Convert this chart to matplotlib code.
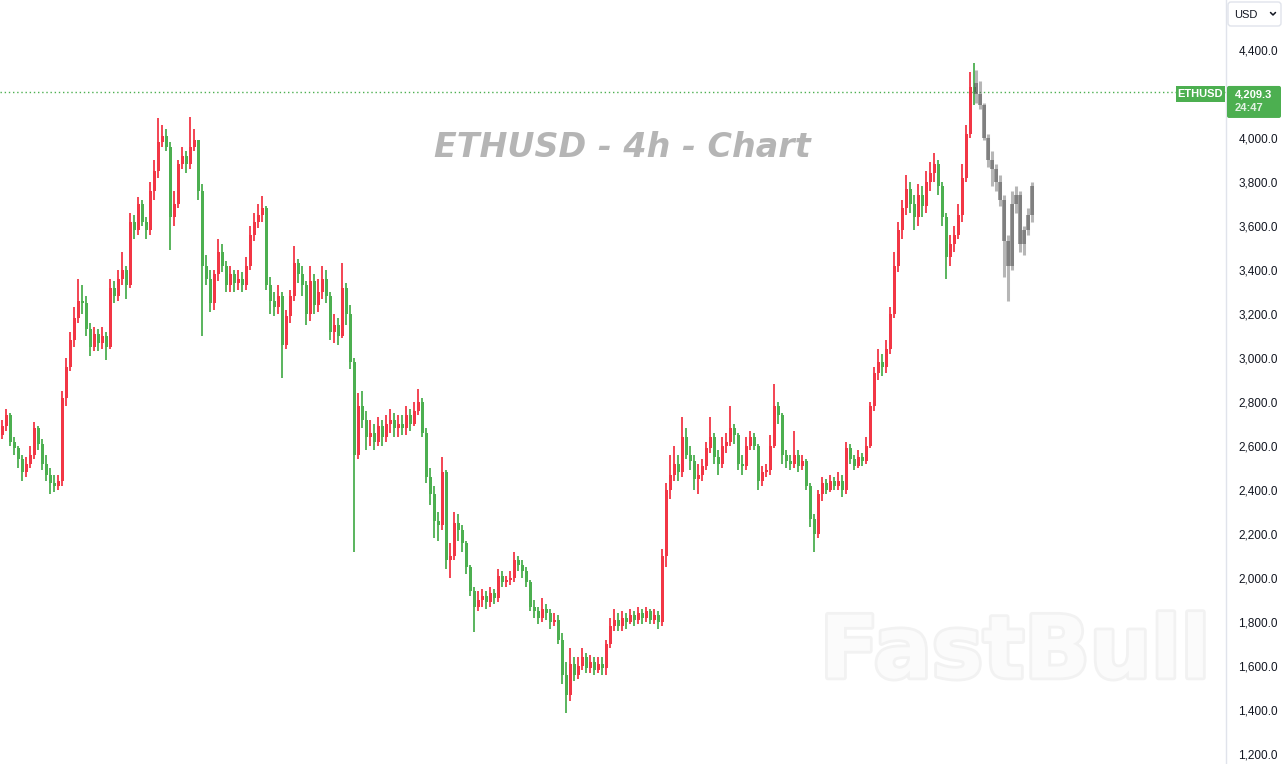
import matplotlib
matplotlib.use("Agg")
import matplotlib.pyplot as plt
import matplotlib.patheffects as pe
from matplotlib.patches import FancyBboxPatch, Rectangle
import numpy as np

# ETHUSD 4h candles (one entry per candle)
first_open = 2650
closes = [
    2690, 2740, 2620, 2590, 2540, 2480, 2520, 2560, 2680, 2610,
    2520, 2470, 2430, 2420, 2440, 2820, 2960, 3080, 3180, 3260,
    3250, 3130, 3050, 3110, 3070, 3100, 3050, 3320, 3280, 3360,
    3400, 3330, 3620, 3580, 3700, 3620, 3580, 3760, 3850, 3980,
    4010, 3960, 3640, 3700, 3880, 3920, 3880, 3960, 3990, 3760,
    3420, 3360, 3250, 3380, 3480, 3420, 3330, 3380, 3340, 3360,
    3330, 3420, 3560, 3620, 3650, 3680, 3330, 3260, 3230, 3280,
    3060, 3190, 3280, 3430, 3380, 3330, 3200, 3350, 3240, 3300,
    3360, 3280, 3120, 3150, 3100, 3320, 3200, 2980, 2560, 2780,
    2720, 2640, 2660, 2620, 2690, 2640, 2700, 2720, 2680, 2700,
    2680, 2740, 2700, 2760, 2800, 2660, 2460, 2380, 2260, 2240,
    2480, 2080, 2100, 2250, 2220, 2160, 2050, 1940, 1870, 1900,
    1920, 1890, 1930, 1910, 2010, 1980, 1990, 2000, 2080, 2060,
    2030, 1980, 1870, 1850, 1820, 1860, 1840, 1800, 1810, 1720,
    1560, 1470, 1610, 1560, 1600, 1640, 1590, 1620, 1580, 1610,
    1590, 1700, 1780, 1810, 1780, 1820, 1800, 1830, 1810, 1840,
    1820, 1850, 1810, 1830, 1800, 2100, 2400, 2470, 2520, 2480,
    2640, 2560, 2530, 2450, 2470, 2510, 2590, 2640, 2550, 2520,
    2600, 2620, 2680, 2650, 2520, 2510, 2600, 2640, 2600, 2440,
    2480, 2490, 2600, 2780, 2740, 2560, 2530, 2520, 2560, 2510,
    2530, 2420, 2270, 2200, 2380, 2430, 2400, 2440, 2420, 2440,
    2400, 2590, 2540, 2510, 2550, 2530, 2600, 2780, 2930, 2980,
    2960, 3040, 3200, 3420, 3580, 3680, 3770, 3700, 3640, 3740,
    3690, 3800, 3840, 3880, 3780, 3640, 3460, 3520, 3560, 3650,
    3820, 4020, 4230, 4209.3,
]
highs = [
    2720, 2770, 2750, 2640, 2600, 2560, 2550, 2600, 2710, 2690,
    2630, 2560, 2500, 2470, 2470, 2850, 3000, 3120, 3230, 3360,
    3330, 3280, 3160, 3140, 3130, 3140, 3120, 3360, 3350, 3400,
    3480, 3420, 3660, 3650, 3730, 3720, 3640, 3800, 3900, 4090,
    4060, 4040, 3980, 3760, 3900, 3960, 3940, 4095, 4040, 3990,
    3790, 3470, 3400, 3400, 3540, 3520, 3440, 3420, 3400, 3400,
    3390, 3460, 3600, 3660, 3700, 3735, 3690, 3370, 3300, 3330,
    3300, 3220, 3310, 3510, 3450, 3420, 3350, 3420, 3380, 3360,
    3420, 3400, 3300, 3200, 3180, 3430, 3340, 3240, 3000, 2840,
    2850, 2760, 2720, 2700, 2730, 2720, 2740, 2770, 2750, 2740,
    2740, 2780, 2770, 2800, 2860, 2820, 2680, 2500, 2420, 2300,
    2550, 2490, 2160, 2300, 2290, 2240, 2170, 2060, 1960, 1940,
    1950, 1940, 1960, 1950, 2040, 2030, 2010, 2030, 2120, 2100,
    2080, 2050, 1990, 1900, 1870, 1910, 1880, 1860, 1840, 1830,
    1750, 1620, 1680, 1640, 1640, 1680, 1660, 1650, 1640, 1640,
    1640, 1720, 1820, 1860, 1840, 1850, 1840, 1860, 1850, 1870,
    1860, 1870, 1860, 1860, 1850, 2130, 2430, 2560, 2600, 2560,
    2730, 2680, 2600, 2560, 2520, 2540, 2620, 2730, 2660, 2580,
    2640, 2660, 2780, 2700, 2660, 2560, 2640, 2670, 2660, 2610,
    2510, 2520, 2650, 2880, 2800, 2750, 2580, 2560, 2670, 2580,
    2560, 2540, 2430, 2290, 2400, 2460, 2450, 2470, 2460, 2480,
    2470, 2620, 2610, 2560, 2580, 2570, 2640, 2800, 2960, 3040,
    3020, 3080, 3230, 3480, 3620, 3720, 3830, 3800, 3740, 3790,
    3780, 3850, 3890, 3930, 3900, 3800, 3660, 3560, 3600, 3700,
    3880, 4060, 4300, 4340,
]
lows = [
    2630, 2670, 2600, 2560, 2500, 2440, 2460, 2500, 2540, 2580,
    2490, 2440, 2380, 2390, 2400, 2420, 2780, 2940, 3050, 3160,
    3200, 3100, 3010, 3030, 3030, 3040, 2990, 3040, 3250, 3260,
    3330, 3270, 3320, 3540, 3560, 3600, 3540, 3560, 3720, 3820,
    3960, 3940, 3490, 3600, 3680, 3860, 3840, 3860, 3940, 3720,
    3100, 3330, 3210, 3220, 3350, 3390, 3300, 3300, 3300, 3310,
    3300, 3310, 3400, 3530, 3590, 3620, 3310, 3200, 3190, 3200,
    2910, 3040, 3160, 3260, 3340, 3280, 3150, 3170, 3200, 3210,
    3270, 3250, 3080, 3070, 3060, 3090, 3150, 2950, 2120, 2540,
    2680, 2580, 2600, 2580, 2600, 2600, 2620, 2660, 2640, 2640,
    2650, 2650, 2670, 2690, 2740, 2640, 2430, 2330, 2180, 2170,
    2220, 2040, 2000, 2080, 2170, 2120, 2020, 1920, 1755, 1850,
    1870, 1860, 1870, 1880, 1890, 1960, 1960, 1970, 1980, 2030,
    2000, 1960, 1850, 1820, 1790, 1800, 1810, 1770, 1780, 1700,
    1520, 1385, 1440, 1530, 1540, 1580, 1570, 1570, 1560, 1570,
    1560, 1560, 1680, 1760, 1760, 1760, 1770, 1790, 1780, 1790,
    1790, 1800, 1790, 1790, 1770, 1780, 2050, 2360, 2440, 2440,
    2460, 2540, 2490, 2400, 2380, 2440, 2490, 2570, 2520, 2470,
    2500, 2570, 2600, 2610, 2490, 2470, 2490, 2580, 2580, 2400,
    2420, 2460, 2470, 2590, 2700, 2520, 2500, 2490, 2500, 2480,
    2490, 2400, 2230, 2120, 2180, 2350, 2380, 2390, 2400, 2400,
    2370, 2380, 2520, 2490, 2500, 2510, 2520, 2590, 2760, 2900,
    2920, 2930, 3020, 3180, 3390, 3540, 3650, 3660, 3580, 3600,
    3640, 3660, 3760, 3800, 3740, 3600, 3360, 3420, 3480, 3540,
    3620, 3800, 4000, 4150,
]

# grey projection candles drawn after the live data
ghost_opens = [4250, 4200, 4150, 4000, 3900, 3860, 3800, 3720, 3530, 3420, 3700, 3740, 3520, 3580, 3650]
ghost_closes = [4200, 4150, 4000, 3900, 3860, 3800, 3720, 3530, 3420, 3700, 3740, 3520, 3580, 3650, 3780]
ghost_highs = [4310, 4260, 4160, 4020, 3940, 3880, 3830, 3740, 3560, 3760, 3780, 3760, 3600, 3680, 3800]
ghost_lows = [4160, 4130, 3990, 3870, 3780, 3760, 3690, 3370, 3260, 3400, 3660, 3480, 3470, 3560, 3620]

# 4,200.0 sits under the last-price tag, so the scale does not print it
price_ticks = [1200, 1400, 1600, 1800, 2000, 2200, 2400, 2600, 2800, 3000,
               3200, 3400, 3600, 3800, 4000, 4400]
symbol = "ETHUSD"
countdown = "24:47"
title = "ETHUSD - 4h - Chart"

UP = "#f23645"      # this chart paints rising candles red
DOWN = "#4caf50"
GREEN = "#4caf50"
W, H = 1287, 764
PANE_W = 1226

fig = plt.figure(figsize=(W / 100, H / 100), dpi=100)
fig.patch.set_facecolor("white")
ax = fig.add_axes([0, 0, PANE_W / W, 1])

closes = np.array(closes, dtype=float)
opens = np.concatenate([[first_open], closes[:-1]])
highs = np.array(highs, dtype=float)
lows = np.array(lows, dtype=float)
x = np.arange(len(closes)) + 0.25
colors = np.where(closes >= opens, UP, DOWN)

body_lo = np.minimum(opens, closes)
body_h = np.maximum(np.abs(closes - opens), 6)
ax.vlines(x, lows, highs, colors=colors, linewidth=1.3, zorder=3)
ax.bar(x, body_h, bottom=body_lo, width=0.72, color=colors, linewidth=0, zorder=3)

gx = x[-1] + 0.5 + np.arange(len(ghost_closes))
g_open = np.array(ghost_opens, dtype=float)
g_close = np.array(ghost_closes, dtype=float)
ax.vlines(gx, ghost_lows, ghost_highs, colors="#5e5e5e", alpha=0.45, linewidth=2.2, zorder=4)
ax.bar(gx, np.maximum(np.abs(g_close - g_open), 8), bottom=np.minimum(g_open, g_close),
       width=1.0, color="#555555", alpha=0.55, linewidth=0, zorder=4)

last = closes[-1]
ax.axhline(last, color=GREEN, linestyle=(0, (1, 2)), linewidth=1.0, zorder=2)

ax.set_xlim(-0.3, PANE_W / 4 - 0.3)
ax.set_ylim(4400 - 714 / 0.22, 4400 + 50 / 0.22)
ax.set_facecolor("white")
for side in ("top", "left", "bottom"):
    ax.spines[side].set_visible(False)
ax.spines["right"].set_color("#e0e3eb")
ax.spines["right"].set_linewidth(1)
ax.set_xticks([])
ax.yaxis.tick_right()
ax.set_yticks(price_ticks)
ax.set_yticklabels([f"{v:,.1f}" for v in price_ticks])
ax.tick_params(axis="y", length=0, pad=9, labelsize=8.5, labelcolor="#131722")
for lbl in ax.get_yticklabels():
    lbl.set_fontfamily("Liberation Sans")

# title and watermark
ax.text(0.508, 0.807, title, transform=ax.transAxes, ha="center", va="center",
        fontsize=24, fontweight="bold", fontstyle="oblique", color="#b5b5b5",
        family="DejaVu Sans", zorder=1)
ax.text(0.828, 0.144, "FastBull", transform=ax.transAxes, ha="center", va="center",
        fontsize=62, fontweight="bold", color="#fbfbfb", family="DejaVu Sans", zorder=0,
        path_effects=[pe.withStroke(linewidth=4, foreground="#f2f2f2")])

# pixel-space overlay for the scale widgets
ov = fig.add_axes([0, 0, 1, 1], zorder=10)
ov.set_xlim(0, W)
ov.set_ylim(H, 0)
ov.axis("off")
ov.patch.set_alpha(0)

y_last = H - ax.transData.transform((0, last))[1]

ov.add_patch(FancyBboxPatch((1228, 2), 53, 24, boxstyle="round,pad=0,rounding_size=3",
                            facecolor="white", edgecolor="#e0e3eb", linewidth=1))
ov.text(1234, 14.5, "USD", ha="left", va="center", fontsize=8, color="#131722",
        family="Liberation Sans")
ov.plot([1270.5, 1273, 1275.5], [12.5, 15, 12.5], color="#131722", linewidth=1.1,
        solid_capstyle="round")

ov.add_patch(FancyBboxPatch((1227, y_last - 6), 54, 32, boxstyle="round,pad=0,rounding_size=2",
                            facecolor=GREEN, edgecolor="none"))
ov.text(1235, y_last + 2.5, f"{last:,.1f}", ha="left", va="center", fontsize=8,
        fontweight="bold", color="white", family="Liberation Sans")
ov.text(1235, y_last + 16.5, countdown, ha="left", va="center", fontsize=8,
        fontweight="bold", color="#e3f2e4", family="Liberation Sans")

ov.add_patch(Rectangle((1176, y_last - 6), 49, 16, facecolor=GREEN, edgecolor="none"))
ov.text(1200.5, y_last + 2, symbol, ha="center", va="center", fontsize=8,
        fontweight="bold", color="white", family="Liberation Sans")

fig.savefig("out.png", dpi=100, facecolor="white")
